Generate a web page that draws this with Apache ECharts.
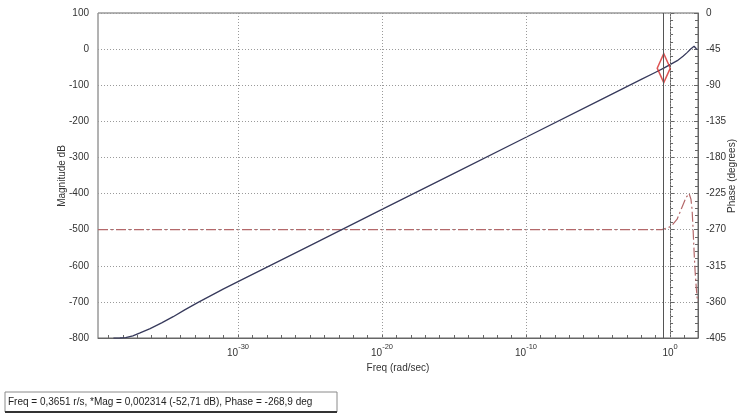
<!DOCTYPE html>
<html>
<head>
<meta charset="utf-8">
<script src="https://cdn.jsdelivr.net/npm/echarts@6/dist/echarts.min.js"></script>
<style>
html,body{margin:0;padding:0;background:#fff;}
#chart{width:739px;height:416px;}
</style>
</head>
<body>
<div id="chart"></div>
<script>
// Frequencies are stored as base-10 exponents (rad/sec = 10^exp)
const magFreqExp = [-38.65, -38.2, -37.8, -37.3, -36.8, -36.1, -35.3, -34.5, -33.7, -32.8, -31, -30, -25, -20, -15, -10, -5, -2, -1, -0.4376, 0, 0.5, 0.9, 1.2, 1.45, 1.58, 1.67, 1.75, 1.82, 1.9];
const magDb      = [-800.5, -800, -799, -794, -786, -774, -758, -741, -722, -702, -664, -644, -544, -444, -344, -244, -144, -84, -64, -52.71, -43, -32, -20, -9, 1, 6, 8, 5, 1, -1];
const phaseFreqExp = [-39.72, -30, -20, -10, -2, -1, -0.56, -0.4376, 0.07, 0.49, 0.83, 1.11, 1.32, 1.45, 1.53, 1.6, 1.67, 1.74, 1.81, 1.875, 1.93];
const phaseDeg     = [-270, -270, -270, -270, -270, -270, -270, -268.9, -266, -257, -242, -230, -225, -232, -245, -270, -298, -322, -340, -354, -360];
const xLabelExp = [-30, -20, -10, 0];
const xMinorExp = [];
for (let e = -39; e <= 1; e++) xMinorExp.push(e);
const cursorExp = -0.4376;   // log10(0.3651)
const cursorMag = -52.71;
const readoutText = 'Freq = 0,3651 r/s, *Mag = 0,002314 (-52,71 dB), Phase = -268,9 deg';
const magAxisName = 'Magnitude dB';
const phaseAxisName = 'Phase (degrees)';

const chart = echarts.init(document.getElementById('chart'));
const font = '"Liberation Sans", Arial, sans-serif';
const axisCol = '#666';
const txtCol = '#333';
const fs = 10;

chart.setOption({
  animation: false,
  backgroundColor: '#fff',
  grid: {left: 98, right: 41, top: 13, bottom: 78, show: true, borderColor: axisCol, borderWidth: 1, containLabel: false, outerBoundsMode: 'none'},
  xAxis: {
    type: 'value', min: -39.72, max: 1.94,
    name: 'Freq (rad/sec)', nameLocation: 'middle', nameGap: 6,
    nameTextStyle: {fontFamily: font, fontSize: fs, color: txtCol},
    axisLine: {show: true, onZero: false, lineStyle: {color: axisCol}},
    axisTick: {show: true, inside: true, length: 3, customValues: xMinorExp, lineStyle: {color: axisCol}},
    axisLabel: {
      customValues: xLabelExp, margin: 5,
      formatter: v => '{b|10}{s|' + (v === 0 ? '0' : String(v)) + '}',
      rich: {
        b: {fontFamily: font, fontSize: fs, color: txtCol, verticalAlign: 'bottom', lineHeight: 15},
        s: {fontFamily: font, fontSize: 7.5, color: txtCol, verticalAlign: 'top', lineHeight: 15}
      }
    },
    splitLine: {show: false}
  },
  yAxis: [{
    type: 'value', min: -800, max: 100, interval: 100, position: 'left',
    axisLine: {show: true, lineStyle: {color: axisCol}},
    axisTick: {show: true, inside: true, length: 4, lineStyle: {color: axisCol}},
    minorTick: {show: true, splitNumber: 5, length: 3, lineStyle: {color: axisCol}},
    axisLabel: {fontFamily: font, fontSize: fs, color: txtCol, margin: 9},
    splitLine: {show: true, lineStyle: {color: '#9a9a9a', type: [1, 2], width: 1}}
  }, {
    type: 'value', min: -405, max: 0, interval: 45, position: 'right',
    axisLine: {show: true, lineStyle: {color: axisCol}},
    axisTick: {show: true, inside: true, length: 4, lineStyle: {color: axisCol}},
    minorTick: {show: true, splitNumber: 5, length: 3, lineStyle: {color: axisCol}},
    axisLabel: {fontFamily: font, fontSize: fs, color: txtCol, margin: 8},
    splitLine: {show: false}
  }],
  series: [{
    name: 'Phase', type: 'line', yAxisIndex: 1, showSymbol: false, symbol: 'none', silent: true,
    data: phaseFreqExp.map((e, i) => [e, phaseDeg[i]]),
    lineStyle: {color: '#b4686a', width: 1.2, type: [10, 3, 2, 3]},
    markLine: {
      silent: true, symbol: 'none', label: {show: false},
      lineStyle: {color: '#9a9a9a', type: [1, 2], width: 1},
      data: xLabelExp.map(e => ({xAxis: e}))
    },
    z: 2
  }, {
    name: 'Magnitude', type: 'line', yAxisIndex: 0, showSymbol: false, symbol: 'none', silent: true,
    data: magFreqExp.map((e, i) => [e, magDb[i]]),
    lineStyle: {color: '#373a5c', width: 1.3},
    markLine: {
      silent: true, symbol: 'none', label: {show: false},
      lineStyle: {color: '#555', type: 'solid', width: 1},
      data: [{xAxis: cursorExp}]
    },
    z: 3
  }, {
    name: 'Cursor', type: 'scatter', yAxisIndex: 0, silent: true,
    data: [[cursorExp, cursorMag]],
    symbol: 'diamond', symbolSize: [13, 29],
    itemStyle: {color: 'rgba(255,255,255,0)', borderColor: '#d42a2a', borderWidth: 1.8},
    z: 4
  }],
  graphic: [{
    type: 'text', x: 62, y: 176, rotation: Math.PI / 2,
    style: {text: magAxisName, font: fs + 'px ' + font, fill: txtCol, align: 'center', verticalAlign: 'middle'}
  }, {
    type: 'text', x: 732, y: 176, rotation: Math.PI / 2,
    style: {text: phaseAxisName, font: fs + 'px ' + font, fill: txtCol, align: 'center', verticalAlign: 'middle'}
  }, {
    type: 'rect', shape: {x: 5, y: 392, width: 332, height: 20},
    style: {fill: '#fff', stroke: '#8a8a8a', lineWidth: 1}
  }, {
    type: 'line', shape: {x1: 5, y1: 412, x2: 337, y2: 412},
    style: {stroke: '#333', lineWidth: 2}
  }, {
    type: 'text', x: 8, y: 402,
    style: {text: readoutText, font: '10px ' + font, fill: '#222', verticalAlign: 'middle'}
  }]
});
</script>
</body>
</html>
